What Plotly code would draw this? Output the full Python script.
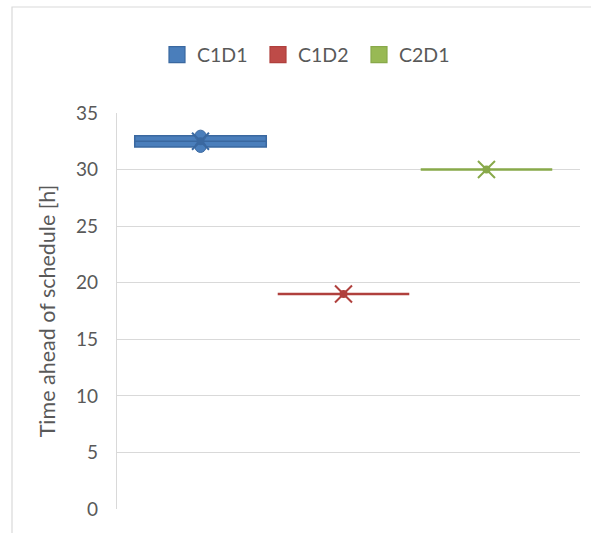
import plotly.graph_objects as go

series_names = ["C1D1", "C1D2", "C2D1"]
c1d1_values = [32, 33]
c1d2_values = [19]
c2d1_values = [30]
series_values = [c1d1_values, c1d2_values, c2d1_values]
y_ticks = [0, 5, 10, 15, 20, 25, 30, 35]

fills = ["#4A7EBB", "#BE4B48", "#98B954"]
lines = ["#3A68A0", "#B0403D", "#88A94A"]
font_family = "Lato, 'Open Sans', sans-serif"
grey = "#595959"

fig = go.Figure()
for i, (name, vals) in enumerate(zip(series_names, series_values)):
    fig.add_trace(go.Box(
        y=vals, x=[i] * len(vals), name=name,
        quartilemethod="exclusive" if len(vals) > 1 else "linear",
        fillcolor=fills[i],
        line=dict(color=lines[i], width=1.5 if len(vals) > 1 else 2.5),
        width=0.92,
        boxpoints="all" if len(vals) > 1 else False,
        jitter=0, pointpos=0,
        marker=dict(color=fills[i], size=11, line=dict(color=lines[i], width=1)),
        showlegend=False,
        hoverinfo="skip",
    ))
    mean = sum(vals) / len(vals)
    fig.add_trace(go.Scatter(
        x=[i], y=[mean], mode="markers",
        marker=dict(symbol="x-thin", size=17, line=dict(color=lines[i], width=2)),
        showlegend=False, hoverinfo="skip",
    ))
    fig.add_trace(go.Scatter(
        x=[i], y=[mean], mode="markers",
        marker=dict(symbol="circle", size=8, color=lines[i]),
        showlegend=False, hoverinfo="skip",
    ))
    # legend entry (square swatch)
    fig.add_trace(go.Scatter(
        x=[None], y=[None], mode="markers", name=name,
        marker=dict(symbol="square", size=20, color=fills[i],
                    line=dict(color=lines[i], width=1.2)),
        showlegend=True, hoverinfo="skip",
    ))

L, R, T, B = 117, 11, 113, 24
W, H = 591, 533
pw, ph = W - L - R, H - T - B

fig.update_layout(
    width=W, height=H,
    margin=dict(l=L, r=R, t=T, b=B, autoexpand=False),
    paper_bgcolor="white", plot_bgcolor="white",
    font=dict(family=font_family, color=grey, size=18),
    showlegend=True,
    legend=dict(orientation="h", x=(157 - L) / pw, xanchor="left",
                y=(H - B - 55) / ph, yanchor="middle",
                font=dict(size=19.5, color=grey), itemsizing="trace",
                entrywidth=56, entrywidthmode="pixels",
                traceorder="normal"),
    xaxis=dict(range=[-0.584, 2.654], showticklabels=False, showgrid=False,
               zeroline=False, showline=False, ticks=""),
    yaxis=dict(range=[0, 35], tickvals=y_ticks, showgrid=True, gridcolor="#D9D9D9",
               gridwidth=1.2, zeroline=False, showline=True, linecolor="#D9D9D9",
               linewidth=1.2, ticks="", ticklabelstandoff=14,
               tickfont=dict(size=19, color=grey),
               title=dict(text="Time ahead of schedule [h]", standoff=14,
                          font=dict(size=21.5, color=grey))),
    shapes=[dict(type="rect", xref="paper", yref="paper",
                 x0=(12 - L) / pw, x1=(W + 20 - L) / pw,
                 y0=(H - B - (H + 20)) / ph, y1=(H - B - 7) / ph,
                 line=dict(color="#D9D9D9", width=1.2), layer="below")],
)

fig.write_html("out.html", config={"displayModeBar": False},
               post_script="document.body.style.margin='0';document.body.style.overflow='hidden';")
